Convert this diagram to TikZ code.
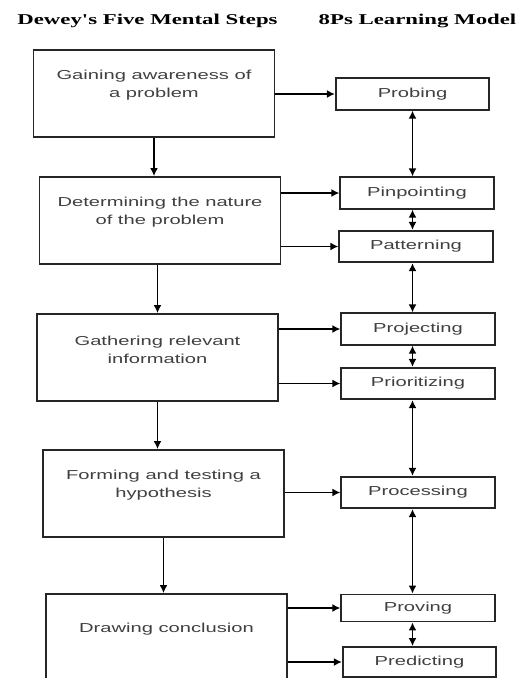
\documentclass[tikz,border=0pt]{standalone}
\usepackage{fontspec}
\usetikzlibrary{arrows.meta}
\newfontfamily\boitefont[FakeStretch=1.55]{Liberation Sans}
\newfontfamily\titrefont[FakeStretch=1.52]{Liberation Serif}

\begin{document}
\begin{tikzpicture}[x=0.75pt, y=-0.75pt]
\tikzset{etape/.style={draw=black!85, line width=1.4pt, minimum width=180.75pt, minimum height=65.25pt},
  modele/.style={draw=black!85, line width=1.4pt, minimum width=115pt, minimum height=23.5pt, inner sep=0pt,
    font=\boitefont\fontsize{9.75}{13.5}\selectfont, text=black!75},
  texte/.style={align=center, font=\boitefont\fontsize{9.75}{13.5}\selectfont, text=black!75, yshift=6pt},
  titre/.style={font=\titrefont\bfseries\fontsize{11.25}{13}\selectfont},
  fleche/.style={line width=1.3pt, -{Latex[length=6pt, width=6pt]}},
  double/.style={line width=1.3pt, {Latex[length=6pt, width=6pt]}-{Latex[length=6pt, width=6pt]}}}
\useasboundingbox (0,0) rectangle (517,678);
\clip (0,0) rectangle (517,678);
\node[titre] (T1) at (147.5,21) {Dewey's Five Mental Steps};
\node[titre] (T2) at (417.5,21) {8Ps Learning Model};
\node[etape, label={[texte]center:{Gaining awareness of\\a problem}}] (D1) at (154,93.5) {};
\node[etape, label={[texte]center:{Determining the nature\\of the problem}}] (D2) at (160,220.5) {};
\node[etape, label={[texte]center:{Gathering relevant\\information}}] (D3) at (157.5,357.5) {};
\node[etape, label={[texte]center:{Forming and testing a\\hypothesis}}] (D4) at (163.5,493.5) {};
\node[etape, label={[texte]center:{Drawing conclusion}}] (D5) at (166.5,637.5) {};
\node[modele] (P1) at (412.5,94) {Probing};
\node[modele] (P2) at (417,193) {Pinpointing};
\node[modele] (P3) at (416,246.5) {Patterning};
\node[modele] (P4) at (418,329) {Projecting};
\node[modele] (P5) at (418,383.5) {Prioritizing};
\node[modele] (P6) at (418,492.5) {Processing};
\node[modele, minimum height=20.25pt] (P7) at (418,608) {Proving};
\node[modele, minimum height=22.5pt] (P8) at (419.5,662) {Predicting};
\draw[fleche] (D1.south) -- (D1.south |- D2.north);
\draw[fleche] (D3.north |- D2.south) -- (D3.north);
\draw[fleche] (D3.south) -- (D3.south |- D4.north);
\draw[fleche] (D4.south) -- (D4.south |- D5.north);
\draw[fleche] (D1.east |- P1.west) -- (P1.west);
\draw[fleche] (D2.east |- P2.west) -- (P2.west);
\draw[fleche] (D2.east |- P3.west) -- (P3.west);
\draw[fleche] (D3.east |- P4.west) -- (P4.west);
\draw[fleche] (D3.east |- P5.west) -- (P5.west);
\draw[fleche] (D4.east |- P6.west) -- (P6.west);
\draw[fleche] (D5.east |- P7.west) -- (P7.west);
\draw[fleche] (D5.east |- P8.west) -- (P8.west);
\draw[double] (P1.south) -- (P1.south |- P2.north);
\draw[double] (P2.south -| P1.south) -- (P3.north -| P1.south);
\draw[double] (P3.south -| P1.south) -- (P4.north -| P1.south);
\draw[double] (P4.south -| P1.south) -- (P5.north -| P1.south);
\draw[double] (P5.south -| P1.south) -- (P6.north -| P1.south);
\draw[double] (P6.south -| P1.south) -- (P7.north -| P1.south);
\draw[double] (P7.south -| P1.south) -- (P8.north -| P1.south);
\end{tikzpicture}
\end{document}
